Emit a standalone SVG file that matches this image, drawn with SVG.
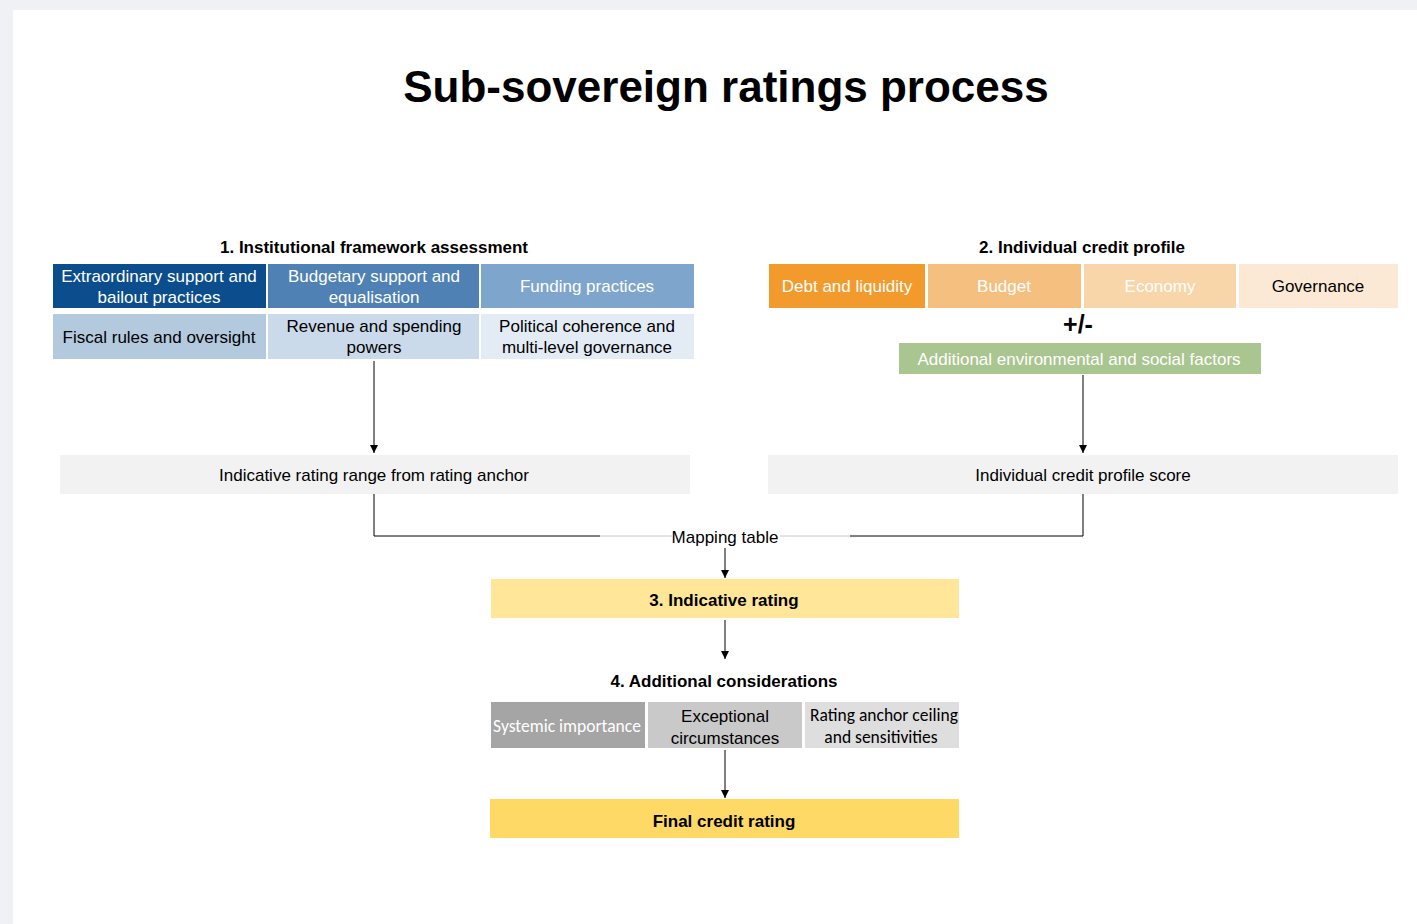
<svg xmlns="http://www.w3.org/2000/svg" width="1417" height="924" viewBox="0 0 1417 924">
<defs>
<marker id="arr" viewBox="0 0 10 10" refX="10" refY="5" markerWidth="8" markerHeight="8" markerUnits="userSpaceOnUse" orient="auto">
<path d="M0,0 L10,5 L0,10 Z" fill="#000"/>
</marker>
<style>
text{font-family:"Liberation Sans",Arial,sans-serif;font-size:17px;text-anchor:middle;fill:#000}
.b{font-weight:bold}
.w{fill:#fff}
.c{font-family:Carlito,Lato,"Liberation Sans",sans-serif;font-size:17.5px}
.ln{stroke:#000;stroke-width:1;fill:none}
.lg{stroke:#c8c8c8;stroke-width:1;fill:none}
</style>
</defs>
<rect x="0" y="0" width="1417" height="924" fill="#f0f1f5"/>
<rect x="13" y="10" width="1404" height="914" fill="#fff"/>
<text x="726" y="102" class="b" style="font-size:44px">Sub-sovereign ratings process</text>

<g id="section1">
<text x="374" y="253" class="b">1. Institutional framework assessment</text>
</g>
<g id="extraordinary"><rect x="53" y="264" width="213" height="44" fill="#0b4d8d"/><text x="159" y="282" class="w">Extraordinary support and</text><text x="159" y="303" class="w">bailout practices</text></g>
<g id="budgetary"><rect x="268" y="264" width="211" height="44" fill="#4f81b4"/><text x="374" y="282" class="w">Budgetary support and</text><text x="374" y="303" class="w">equalisation</text></g>
<g id="funding"><rect x="481" y="264" width="213" height="44" fill="#7ea6cc"/><text x="587" y="292" class="w">Funding practices</text></g>
<g id="fiscal"><rect x="53" y="314" width="213" height="45" fill="#b3c9de"/><text x="159" y="343">Fiscal rules and oversight</text></g>
<g id="revenue"><rect x="268" y="314" width="211" height="45" fill="#cbdaea"/><text x="374" y="332">Revenue and spending</text><text x="374" y="353">powers</text></g>
<g id="political"><rect x="481" y="314" width="213" height="45" fill="#e3ebf5"/><text x="587" y="332">Political coherence and</text><text x="587" y="353">multi-level governance</text></g>
<g id="range"><rect x="60" y="455" width="630" height="39" fill="#f2f2f2"/><text x="374" y="481">Indicative rating range from rating anchor</text></g>

<g id="section2">
<text x="1082" y="253" class="b">2. Individual credit profile</text>
</g>
<g id="debt"><rect x="769" y="264" width="156" height="44" fill="#f39a2c"/><text x="847" y="292" class="w">Debt and liquidity</text></g>
<g id="budget"><rect x="928" y="264" width="153" height="44" fill="#f5bf80"/><text x="1004" y="292" class="w">Budget</text></g>
<g id="economy"><rect x="1084" y="264" width="152" height="44" fill="#f9d5aa"/><text x="1160" y="292" class="w">Economy</text></g>
<g id="governance"><rect x="1239" y="264" width="159" height="44" fill="#fce9d5"/><text x="1318" y="292">Governance</text></g>
<text x="1078" y="333" class="b" style="font-size:25px">+/-</text>
<g id="esg"><rect x="899" y="343" width="362" height="31" fill="#a9c590"/><text x="1079" y="365" class="w">Additional  environmental  and social factors</text></g>
<g id="icp"><rect x="768" y="455" width="630" height="39" fill="#f2f2f2"/><text x="1083" y="481">Individual  credit profile score</text></g>

<g id="indicative"><rect x="491" y="579" width="468" height="39" fill="#ffe699"/><text x="724" y="606" class="b">3. Indicative rating</text></g>
<g id="section4"><text x="724" y="687" class="b">4. Additional  considerations</text></g>
<g id="systemic"><rect x="491" y="702" width="154" height="46" fill="#a5a5a5"/><text x="567" y="732" class="c w">Systemic importance</text></g>
<g id="exceptional"><rect x="648" y="702" width="154" height="46" fill="#c9c9c9"/><text x="725" y="722">Exceptional</text><text x="725" y="744">circumstances</text></g>
<g id="ceiling"><rect x="805" y="702" width="154" height="46" fill="#dedede"/><text x="884" y="721" class="c">Rating anchor ceiling</text><text x="881" y="743" class="c">and sensitivities</text></g>
<g id="final"><rect x="490" y="799" width="469" height="39" fill="#ffd966"/><text x="724" y="827" class="b">Final credit rating</text></g>

<g id="connectors">
<line x1="374" y1="361" x2="374" y2="453" class="ln" marker-end="url(#arr)"/>
<line x1="1083" y1="375" x2="1083" y2="453" class="ln" marker-end="url(#arr)"/>
<path d="M374,494 V536 H600" class="ln"/>
<path d="M600,536 H672" class="lg"/>
<path d="M1083,494 V536 H850" class="ln"/>
<path d="M850,536 H780" class="lg"/>
<text x="725" y="543">Mapping table</text>
<line x1="725" y1="548" x2="725" y2="578" class="ln" marker-end="url(#arr)"/>
<line x1="725" y1="620" x2="725" y2="659" class="ln" marker-end="url(#arr)"/>
<line x1="725" y1="750" x2="725" y2="798" class="ln" marker-end="url(#arr)"/>
</g>
</svg>
